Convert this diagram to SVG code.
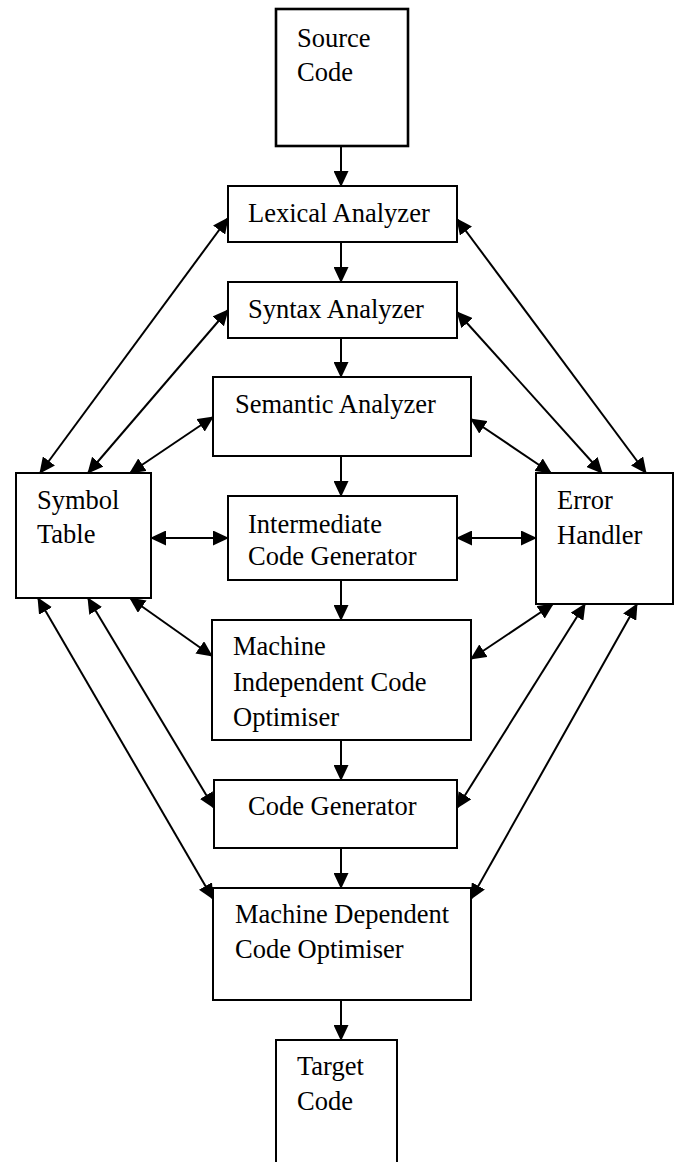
<svg xmlns="http://www.w3.org/2000/svg" width="679" height="1162" viewBox="0 0 679 1162">
<style>
.box{fill:#fff;stroke:#000;stroke-width:2}
.thick{stroke-width:2.6}
.lbl{font-family:"Liberation Serif","Times New Roman",serif;font-size:26.5px;fill:#000}
.c{stroke:#000;stroke-width:2;fill:none}
</style>
<defs>
<marker id="ah" markerUnits="userSpaceOnUse" markerWidth="16" markerHeight="15" refX="15" refY="7.5" orient="auto-start-reverse">
<path d="M0,0 L16,7.5 L0,15 Z" fill="#000"/>
</marker>
</defs>
<rect width="679" height="1162" fill="#fff"/>
<g id="connectors">
<line class="c" x1="341" y1="146" x2="341" y2="186" marker-end="url(#ah)"/>
<line class="c" x1="341" y1="242" x2="341" y2="282" marker-end="url(#ah)"/>
<line class="c" x1="341" y1="338" x2="341" y2="377" marker-end="url(#ah)"/>
<line class="c" x1="341" y1="456" x2="341" y2="496" marker-end="url(#ah)"/>
<line class="c" x1="341" y1="580" x2="341" y2="620" marker-end="url(#ah)"/>
<line class="c" x1="341" y1="740" x2="341" y2="780" marker-end="url(#ah)"/>
<line class="c" x1="341" y1="848" x2="341" y2="888" marker-end="url(#ah)"/>
<line class="c" x1="341" y1="1000" x2="341" y2="1040" marker-end="url(#ah)"/>
<line class="c" x1="40" y1="473" x2="228" y2="218" marker-start="url(#ah)" marker-end="url(#ah)"/>
<line class="c" x1="88" y1="473" x2="228" y2="310" marker-start="url(#ah)" marker-end="url(#ah)"/>
<line class="c" x1="130" y1="473" x2="213" y2="417" marker-start="url(#ah)" marker-end="url(#ah)"/>
<line class="c" x1="151" y1="538" x2="228" y2="538" marker-start="url(#ah)" marker-end="url(#ah)"/>
<line class="c" x1="130" y1="598" x2="212" y2="656" marker-start="url(#ah)" marker-end="url(#ah)"/>
<line class="c" x1="88" y1="598" x2="214" y2="808" marker-start="url(#ah)" marker-end="url(#ah)"/>
<line class="c" x1="38" y1="598" x2="213" y2="899" marker-start="url(#ah)" marker-end="url(#ah)"/>
<line class="c" x1="457" y1="219" x2="646" y2="473" marker-start="url(#ah)" marker-end="url(#ah)"/>
<line class="c" x1="457" y1="312" x2="602" y2="473" marker-start="url(#ah)" marker-end="url(#ah)"/>
<line class="c" x1="471" y1="419" x2="551" y2="473" marker-start="url(#ah)" marker-end="url(#ah)"/>
<line class="c" x1="457" y1="538" x2="536" y2="538" marker-start="url(#ah)" marker-end="url(#ah)"/>
<line class="c" x1="471" y1="659" x2="553" y2="604" marker-start="url(#ah)" marker-end="url(#ah)"/>
<line class="c" x1="457" y1="808" x2="585" y2="604" marker-start="url(#ah)" marker-end="url(#ah)"/>
<line class="c" x1="471" y1="899" x2="637" y2="604" marker-start="url(#ah)" marker-end="url(#ah)"/>
</g>
<g id="source">
<rect class="box thick" x="276" y="9" width="132" height="137"/>
<text class="lbl" x="297" y="47">Source</text>
<text class="lbl" x="297" y="81">Code</text>
</g>
<g id="lexical">
<rect class="box" x="228" y="186" width="229" height="56"/>
<text class="lbl" x="248" y="222">Lexical Analyzer</text>
</g>
<g id="syntax">
<rect class="box" x="228" y="282" width="229" height="56"/>
<text class="lbl" x="248" y="318">Syntax Analyzer</text>
</g>
<g id="semantic">
<rect class="box" x="213" y="377" width="258" height="79"/>
<text class="lbl" x="235" y="413">Semantic Analyzer</text>
</g>
<g id="icg">
<rect class="box" x="228" y="496" width="229" height="84"/>
<text class="lbl" x="248" y="533">Intermediate</text>
<text class="lbl" x="248" y="565">Code Generator</text>
</g>
<g id="symbol">
<rect class="box" x="16" y="473" width="135" height="125"/>
<text class="lbl" x="37" y="509">Symbol</text>
<text class="lbl" x="37" y="543">Table</text>
</g>
<g id="error">
<rect class="box" x="536" y="473" width="137" height="131"/>
<text class="lbl" x="557" y="509">Error</text>
<text class="lbl" x="557" y="544">Handler</text>
</g>
<g id="mico">
<rect class="box" x="212" y="620" width="259" height="120"/>
<text class="lbl" x="233" y="655">Machine</text>
<text class="lbl" x="233" y="691">Independent Code</text>
<text class="lbl" x="233" y="726">Optimiser</text>
</g>
<g id="codegen">
<rect class="box" x="214" y="780" width="243" height="68"/>
<text class="lbl" x="248" y="815">Code Generator</text>
</g>
<g id="mdco">
<rect class="box" x="213" y="888" width="258" height="112"/>
<text class="lbl" x="235" y="923">Machine Dependent</text>
<text class="lbl" x="235" y="958">Code Optimiser</text>
</g>
<g id="target">
<rect class="box" x="276" y="1040" width="121" height="130"/>
<text class="lbl" x="297" y="1075">Target</text>
<text class="lbl" x="297" y="1110">Code</text>
</g>
</svg>
